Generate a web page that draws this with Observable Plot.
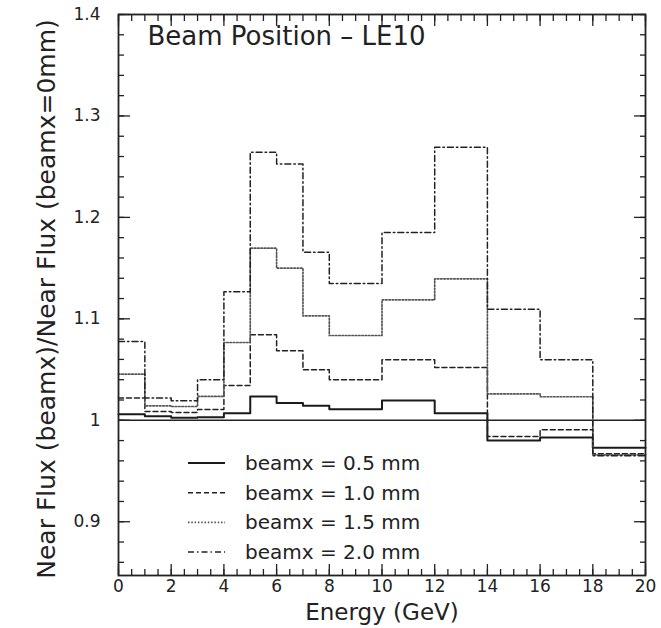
<!DOCTYPE html>
<html><head><meta charset="utf-8">
<script src="https://cdn.jsdelivr.net/npm/d3@7"></script>
<script src="https://cdn.jsdelivr.net/npm/@observablehq/plot@0.6"></script>
<style>
body{margin:0;background:#fff}
#chart{position:relative;width:661px;height:628px;font-family:"DejaVu Sans",sans-serif}
#legend{position:absolute;left:0;top:0;pointer-events:none}
</style></head><body><div id="chart"></div>
<script>
// Energy bin edges (GeV)
const binEdges = [0, 1, 2, 3, 4, 5, 6, 7, 8, 10, 12, 14, 16, 18, 20];
// Near flux ratio per bin, one array per beam offset
const beamx05 = [1.006, 1.004, 1.0025, 1.003, 1.007, 1.0235, 1.017, 1.0143, 1.011, 1.0195, 1.007, 0.980, 0.983, 0.973];
const beamx10 = [1.022, 1.0087, 1.0077, 1.0107, 1.0343, 1.0842, 1.0685, 1.0498, 1.040, 1.0596, 1.052, 0.984, 0.9906, 0.967];
const beamx15 = [1.0455, 1.0143, 1.0136, 1.0235, 1.0767, 1.1697, 1.150, 1.103, 1.0836, 1.1187, 1.1394, 1.026, 1.0232, 0.966];
const beamx20 = [1.0776, 1.022, 1.0192, 1.040, 1.1266, 1.2643, 1.2527, 1.1657, 1.1348, 1.185, 1.2692, 1.1095, 1.0596, 0.965];
const seriesLabels = ["beamx = 0.5 mm", "beamx = 1.0 mm", "beamx = 1.5 mm", "beamx = 2.0 mm"];
const referenceLine = [1];
const xTickValues = [0, 2, 4, 6, 8, 10, 12, 14, 16, 18, 20];
const yTickValues = [0.9, 1.0, 1.1, 1.2, 1.3, 1.4];
const yTickLabels = ["0.9", "1", "1.1", "1.2", "1.3", "1.4"];
const titleText = "Beam Position \u2013 LE10";
const xLabel = "Energy (GeV)";
const yLabel = "Near Flux (beamx)/Near Flux (beamx=0mm)";

const allSeries = [beamx05, beamx10, beamx15, beamx20];
const styles = [
  {stroke: "#1a1a1a", strokeWidth: 2, strokeDasharray: null},
  {stroke: "#222", strokeWidth: 1.5, strokeDasharray: "5,3"},
  {stroke: "#555", strokeWidth: 1.7, strokeDasharray: "1.5,1.8"},
  {stroke: "#222", strokeWidth: 1.5, strokeDasharray: "6,3,1.5,3"}
];
function stepRows(vals, label) {
  const rows = vals.map((v, i) => ({x: binEdges[i], y: v, s: label}));
  rows.push({x: binEdges[binEdges.length - 1], y: vals[vals.length - 1], s: label});
  return rows;
}
const xMinor = d3.range(0, 20.0001, 0.5);
const yMinor = d3.range(0.86, 1.4001, 0.02).map(d => +d.toFixed(2));
const blank = () => "";
const tickStyle = {stroke: "#222", strokeWidth: 1.3};

const plot = Plot.plot({
  width: 661, height: 628,
  marginLeft: 118, marginRight: 16, marginTop: 14, marginBottom: 53,
  style: {fontFamily: "DejaVu Sans, sans-serif", fontSize: "17px", color: "#222", background: "white"},
  x: {domain: [0, 20]},
  y: {domain: [0.847, 1.4]},
  marks: [
    Plot.ruleY(referenceLine, {stroke: "#222", strokeWidth: 1.4}),
    ...allSeries.map((vals, k) => Plot.line(stepRows(vals, seriesLabels[k]), {x: "x", y: "y", curve: "step-after", ...styles[k]})),
    // bottom/top x ticks
    Plot.axisX({anchor: "bottom", ticks: xTickValues, tickSize: 0, tickPadding: 4, label: null, fontSize: 17}),
    Plot.axisX({anchor: "bottom", ticks: xMinor, tickSize: -6, tickFormat: blank, label: null, ...tickStyle}),
    Plot.axisX({anchor: "bottom", ticks: xTickValues, tickSize: -11, tickFormat: blank, label: null, ...tickStyle}),
    Plot.axisX({anchor: "top", ticks: xMinor, tickSize: -6, tickFormat: blank, label: null, ...tickStyle}),
    Plot.axisX({anchor: "top", ticks: xTickValues, tickSize: -11, tickFormat: blank, label: null, ...tickStyle}),
    // left/right y ticks
    Plot.axisY({anchor: "left", ticks: yTickValues, tickSize: 0, tickPadding: 18, tickFormat: (d, i) => yTickLabels[i], label: null, fontSize: 17}),
    Plot.axisY({anchor: "left", ticks: yMinor, tickSize: -6, tickFormat: blank, label: null, ...tickStyle}),
    Plot.axisY({anchor: "left", ticks: yTickValues, tickSize: -12, tickFormat: blank, label: null, ...tickStyle}),
    Plot.axisY({anchor: "right", ticks: yMinor, tickSize: -6, tickFormat: blank, label: null, ...tickStyle}),
    Plot.axisY({anchor: "right", ticks: yTickValues, tickSize: -12, tickFormat: blank, label: null, ...tickStyle}),
    Plot.frame({stroke: "#222", strokeWidth: 1.8}),
    Plot.text([titleText], {frameAnchor: "top-left", dx: 29, dy: 22, textAnchor: "start", lineAnchor: "middle", fontSize: 26, fill: "#222"}),
    Plot.text([xLabel], {frameAnchor: "bottom", dy: 37, textAnchor: "middle", lineAnchor: "middle", fontSize: 23, fill: "#222"}),
    Plot.text([yLabel], {frameAnchor: "left", dx: -72, dy: 4, rotate: -90, textAnchor: "middle", lineAnchor: "middle", fontSize: 25, fill: "#222"})
  ]
});
const chart = document.getElementById("chart");
chart.appendChild(plot);

// legend overlay inside the plot frame
const leg = d3.select(chart).append("svg").attr("id", "legend").attr("width", 661).attr("height", 628);
seriesLabels.forEach((lab, i) => {
  const y = 463 + i * 29.7;
  const st = styles[i];
  leg.append("line").attr("x1", 188).attr("x2", 225).attr("y1", y).attr("y2", y)
    .attr("stroke", st.stroke).attr("stroke-width", st.strokeWidth)
    .attr("stroke-dasharray", st.strokeDasharray);
  leg.append("text").attr("x", 245).attr("y", y).attr("dy", "0.35em")
    .attr("font-family", "DejaVu Sans, sans-serif").attr("font-size", 20).attr("fill", "#222").text(lab);
});
</script></body></html>
